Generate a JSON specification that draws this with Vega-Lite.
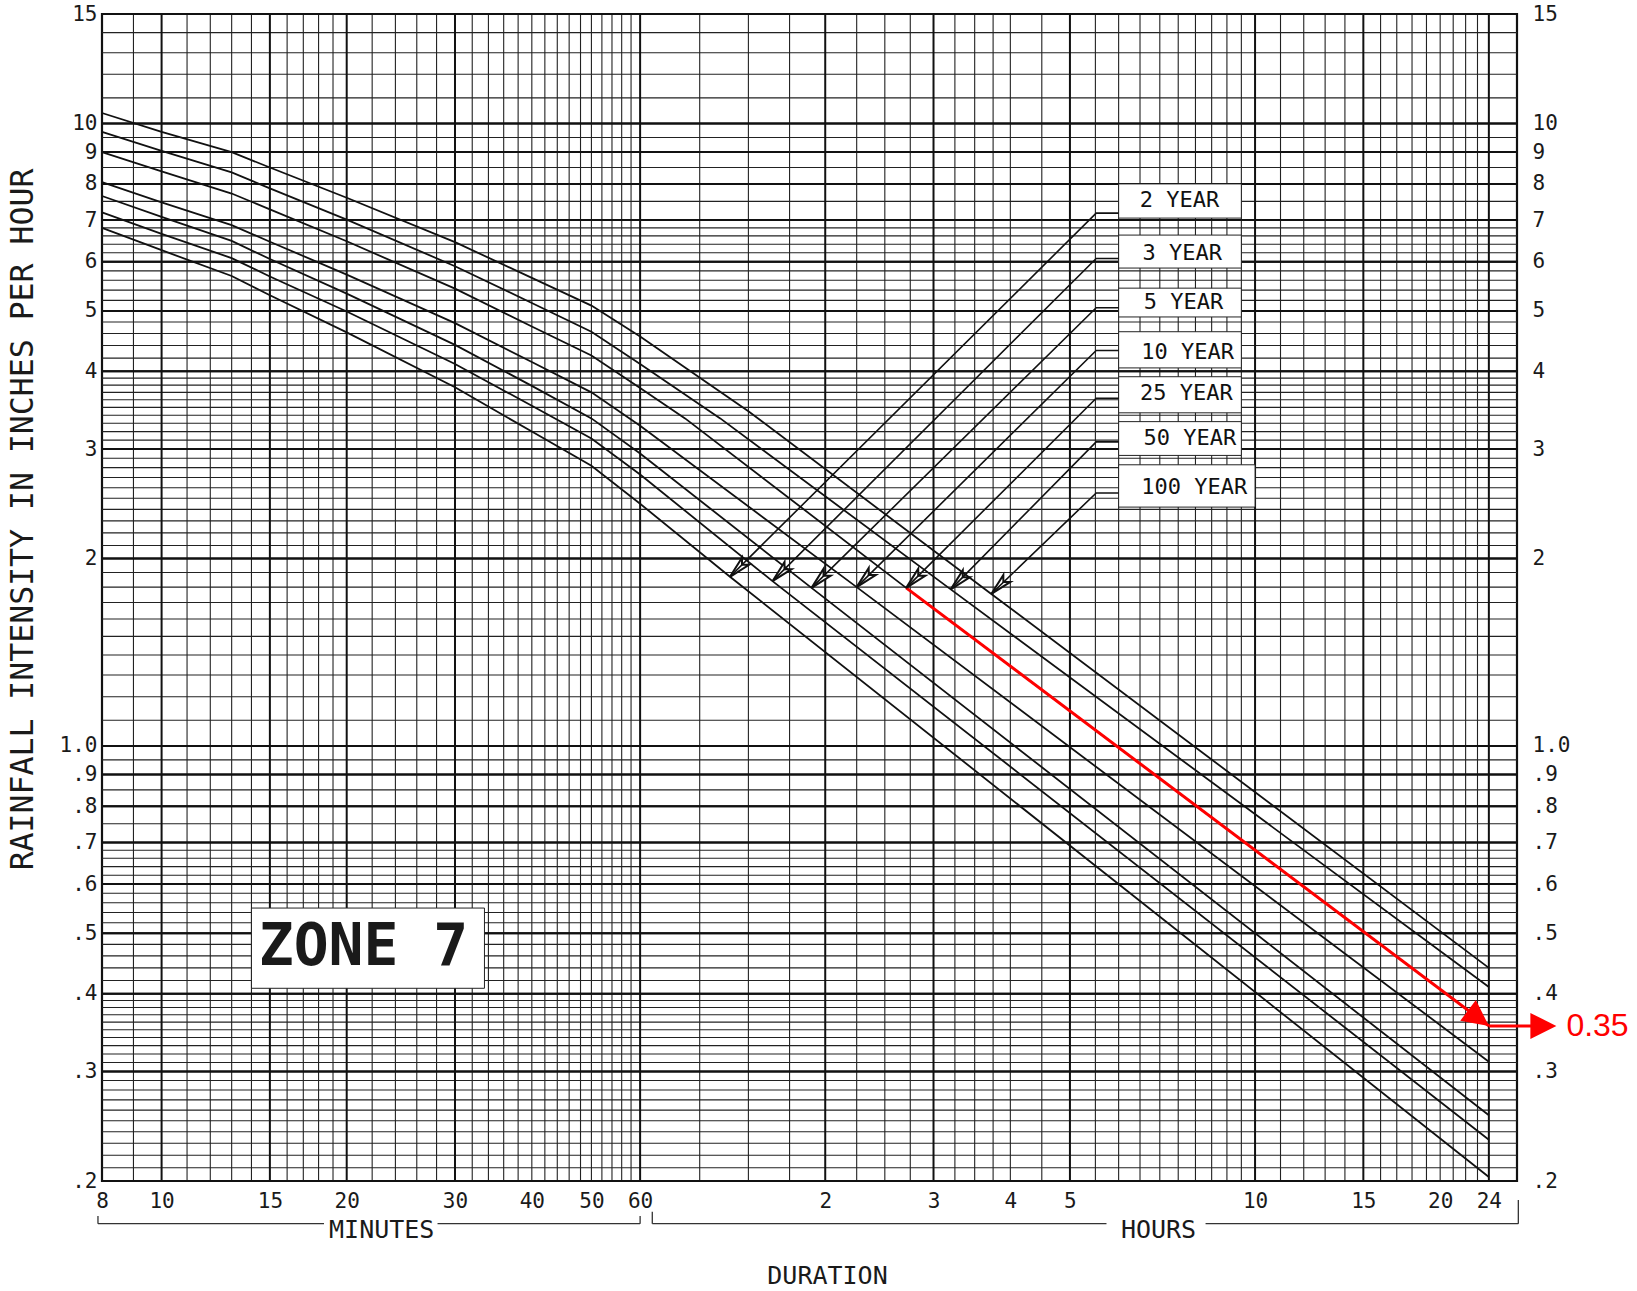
{
  "$schema": "https://vega.github.io/schema/vega-lite/v6.json",
  "width": 1415,
  "height": 1167,
  "autosize": {"type": "none"},
  "padding": {"left": 102, "top": 14, "right": 120, "bottom": 110},
  "background": "white",
  "config": {"view": {"stroke": "#111", "strokeWidth": 2.2}, "font": "DejaVu Sans Mono"},
  "datasets": {
    "xminor": [{"m":9},{"m":11},{"m":12},{"m":13},{"m":14},{"m":16},{"m":17},{"m":18},{"m":19},{"m":22},{"m":24},{"m":26},{"m":28},{"m":32},{"m":34},{"m":36},{"m":38},{"m":40},{"m":42},{"m":44},{"m":46},{"m":48},{"m":50},{"m":52},{"m":54},{"m":56},{"m":58},{"m":75},{"m":90},{"m":105},{"m":135},{"m":150},{"m":165},{"m":195},{"m":210},{"m":225},{"m":240},{"m":270},{"m":330},{"m":360},{"m":390},{"m":420},{"m":450},{"m":480},{"m":510},{"m":540},{"m":570},{"m":660},{"m":720},{"m":780},{"m":840},{"m":960},{"m":1020},{"m":1080},{"m":1140},{"m":1200},{"m":1260},{"m":1320},{"m":1380}],
    "xmajor": [{"m":10},{"m":15},{"m":20},{"m":30},{"m":60},{"m":120},{"m":180},{"m":300},{"m":600},{"m":900},{"m":1440}],
    "yminor": [{"v":11},{"v":12},{"v":13},{"v":14},{"v":7.5},{"v":8.5},{"v":9.5},{"v":6.2},{"v":6.4},{"v":6.6},{"v":6.8},{"v":4.2},{"v":4.4},{"v":4.6},{"v":4.8},{"v":5.2},{"v":5.4},{"v":5.6},{"v":5.8},{"v":3.1},{"v":3.2},{"v":3.3},{"v":3.4},{"v":3.5},{"v":3.6},{"v":3.7},{"v":3.8},{"v":3.9},{"v":2.1},{"v":2.2},{"v":2.3},{"v":2.4},{"v":2.5},{"v":2.6},{"v":2.7},{"v":2.8},{"v":2.9},{"v":1.1},{"v":1.2},{"v":1.3},{"v":1.4},{"v":1.5},{"v":1.6},{"v":1.7},{"v":1.8},{"v":1.9},{"v":0.75},{"v":0.85},{"v":0.95},{"v":0.62},{"v":0.64},{"v":0.66},{"v":0.68},{"v":0.52},{"v":0.54},{"v":0.56},{"v":0.58},{"v":0.42},{"v":0.44},{"v":0.46},{"v":0.48},{"v":0.21},{"v":0.22},{"v":0.23},{"v":0.24},{"v":0.25},{"v":0.26},{"v":0.27},{"v":0.28},{"v":0.29},{"v":0.31},{"v":0.32},{"v":0.33},{"v":0.34},{"v":0.35},{"v":0.36},{"v":0.37},{"v":0.38},{"v":0.39}],
    "ymajor": [{"v":15},{"v":10},{"v":9},{"v":8},{"v":7},{"v":6},{"v":5},{"v":4},{"v":3},{"v":2},{"v":1},{"v":0.9},{"v":0.8},{"v":0.7},{"v":0.6},{"v":0.5},{"v":0.4},{"v":0.3},{"v":0.2}],
    "curves": [
      {"rp":"100 YEAR","d":8,"i":10.4},{"rp":"100 YEAR","d":10,"i":9.7},{"rp":"100 YEAR","d":13,"i":9.0},{"rp":"100 YEAR","d":15,"i":8.5},{"rp":"100 YEAR","d":20,"i":7.6},{"rp":"100 YEAR","d":30,"i":6.45},{"rp":"100 YEAR","d":40,"i":5.65},{"rp":"100 YEAR","d":50,"i":5.1},{"rp":"100 YEAR","d":60,"i":4.55},{"rp":"100 YEAR","d":90,"i":3.45},{"rp":"100 YEAR","d":223.5,"i":1.755},{"rp":"100 YEAR","d":1440,"i":0.44},
      {"rp":"50 YEAR","d":8,"i":9.7},{"rp":"50 YEAR","d":10,"i":9.04},{"rp":"50 YEAR","d":13,"i":8.35},{"rp":"50 YEAR","d":15,"i":7.87},{"rp":"50 YEAR","d":20,"i":7.01},{"rp":"50 YEAR","d":30,"i":5.9},{"rp":"50 YEAR","d":40,"i":5.15},{"rp":"50 YEAR","d":50,"i":4.63},{"rp":"50 YEAR","d":60,"i":4.11},{"rp":"50 YEAR","d":81,"i":3.36},{"rp":"50 YEAR","d":192,"i":1.785},{"rp":"50 YEAR","d":1440,"i":0.41},
      {"rp":"25 YEAR","d":8,"i":9.0},{"rp":"25 YEAR","d":10,"i":8.38},{"rp":"25 YEAR","d":13,"i":7.72},{"rp":"25 YEAR","d":15,"i":7.28},{"rp":"25 YEAR","d":20,"i":6.47},{"rp":"25 YEAR","d":30,"i":5.43},{"rp":"25 YEAR","d":40,"i":4.72},{"rp":"25 YEAR","d":50,"i":4.24},{"rp":"25 YEAR","d":60,"i":3.76},{"rp":"25 YEAR","d":71,"i":3.36},{"rp":"25 YEAR","d":162.5,"i":1.795},{"rp":"25 YEAR","d":1440,"i":0.355},
      {"rp":"10 YEAR","d":8,"i":8.05},{"rp":"10 YEAR","d":10,"i":7.47},{"rp":"10 YEAR","d":13,"i":6.87},{"rp":"10 YEAR","d":15,"i":6.46},{"rp":"10 YEAR","d":20,"i":5.72},{"rp":"10 YEAR","d":30,"i":4.78},{"rp":"10 YEAR","d":40,"i":4.14},{"rp":"10 YEAR","d":50,"i":3.7},{"rp":"10 YEAR","d":60,"i":3.27},{"rp":"10 YEAR","d":135,"i":1.8},{"rp":"10 YEAR","d":1440,"i":0.311},
      {"rp":"5 YEAR","d":8,"i":7.65},{"rp":"5 YEAR","d":10,"i":7.08},{"rp":"5 YEAR","d":13,"i":6.48},{"rp":"5 YEAR","d":15,"i":6.06},{"rp":"5 YEAR","d":20,"i":5.33},{"rp":"5 YEAR","d":30,"i":4.41},{"rp":"5 YEAR","d":40,"i":3.79},{"rp":"5 YEAR","d":50,"i":3.36},{"rp":"5 YEAR","d":60,"i":2.95},{"rp":"5 YEAR","d":114,"i":1.795},{"rp":"5 YEAR","d":1440,"i":0.255},
      {"rp":"3 YEAR","d":8,"i":7.2},{"rp":"3 YEAR","d":10,"i":6.65},{"rp":"3 YEAR","d":13,"i":6.08},{"rp":"3 YEAR","d":15,"i":5.68},{"rp":"3 YEAR","d":20,"i":4.99},{"rp":"3 YEAR","d":30,"i":4.11},{"rp":"3 YEAR","d":40,"i":3.52},{"rp":"3 YEAR","d":50,"i":3.12},{"rp":"3 YEAR","d":60,"i":2.73},{"rp":"3 YEAR","d":98.5,"i":1.84},{"rp":"3 YEAR","d":1440,"i":0.233},
      {"rp":"2 YEAR","d":8,"i":6.8},{"rp":"2 YEAR","d":10,"i":6.26},{"rp":"2 YEAR","d":13,"i":5.69},{"rp":"2 YEAR","d":15,"i":5.3},{"rp":"2 YEAR","d":20,"i":4.62},{"rp":"2 YEAR","d":30,"i":3.77},{"rp":"2 YEAR","d":40,"i":3.2},{"rp":"2 YEAR","d":50,"i":2.82},{"rp":"2 YEAR","d":60,"i":2.45},{"rp":"2 YEAR","d":84,"i":1.87},{"rp":"2 YEAR","d":1440,"i":0.203}
    ],
    "tips": [{"rp":"2 YEAR","d":84,"i":1.87},{"rp":"3 YEAR","d":98.5,"i":1.84},{"rp":"5 YEAR","d":114,"i":1.795},{"rp":"10 YEAR","d":135,"i":1.8},{"rp":"25 YEAR","d":162.5,"i":1.795},{"rp":"50 YEAR","d":192,"i":1.785},{"rp":"100 YEAR","d":223.5,"i":1.755}],
    "leaders": [
      {"rp":"2 YEAR","o":0,"d":360,"i":7.18},{"rp":"2 YEAR","o":1,"d":331,"i":7.18},{"rp":"2 YEAR","o":2,"d":84,"i":1.87},
      {"rp":"3 YEAR","o":0,"d":360,"i":6.07},{"rp":"3 YEAR","o":1,"d":331,"i":6.07},{"rp":"3 YEAR","o":2,"d":98.5,"i":1.84},
      {"rp":"5 YEAR","o":0,"d":360,"i":5.06},{"rp":"5 YEAR","o":1,"d":331,"i":5.06},{"rp":"5 YEAR","o":2,"d":114,"i":1.795},
      {"rp":"10 YEAR","o":0,"d":360,"i":4.32},{"rp":"10 YEAR","o":1,"d":331,"i":4.32},{"rp":"10 YEAR","o":2,"d":135,"i":1.8},
      {"rp":"25 YEAR","o":0,"d":360,"i":3.62},{"rp":"25 YEAR","o":1,"d":331,"i":3.62},{"rp":"25 YEAR","o":2,"d":162.5,"i":1.795},
      {"rp":"50 YEAR","o":0,"d":360,"i":3.08},{"rp":"50 YEAR","o":1,"d":331,"i":3.08},{"rp":"50 YEAR","o":2,"d":192,"i":1.785},
      {"rp":"100 YEAR","o":0,"d":360,"i":2.55},{"rp":"100 YEAR","o":1,"d":331,"i":2.55},{"rp":"100 YEAR","o":2,"d":223.5,"i":1.755}
    ],
    "boxes": [{"d1":360,"d2":570,"i1":7.05,"i2":8.0},{"d1":360,"d2":570,"i1":5.86,"i2":6.62},{"d1":360,"d2":570,"i1":4.89,"i2":5.44},{"d1":360,"d2":570,"i1":4.05,"i2":4.63},{"d1":360,"d2":570,"i1":3.43,"i2":3.92},{"d1":360,"d2":570,"i1":2.93,"i2":3.32},{"d1":360,"d2":600,"i1":2.42,"i2":2.83},{"d1":14,"d2":33.5,"i1":0.408,"i2":0.549}],
    "labels": [{"t":"2 YEAR","d":452,"i":7.54},{"t":"3 YEAR","d":457,"i":6.2},{"t":"5 YEAR","d":459,"i":5.17},{"t":"10 YEAR","d":466,"i":4.29},{"t":"25 YEAR","d":464,"i":3.69},{"t":"50 YEAR","d":470,"i":3.13},{"t":"100 YEAR","d":478,"i":2.61}],
    "zone": [{"t":"ZONE 7","d":21.3,"i":0.474}],
    "red": [{"d":162.5,"i":1.795},{"d":1440,"i":0.355}],
    "redh": [{"d":1440,"i":0.355},{"d":1800,"i":0.355}],
    "redval": [{"t":"0.35","d":1925,"i":0.355}],
    "brackets": [{"x1":7.88,"x2":18.37,"y1":0.1708,"y2":0.1708},{"x1":28.1,"x2":60,"y1":0.1708,"y2":0.1708},{"x1":7.88,"x2":7.88,"y1":0.1708,"y2":0.1757},{"x1":60,"x2":60,"y1":0.1708,"y2":0.1757},{"x1":62.8,"x2":344,"y1":0.1708,"y2":0.1708},{"x1":498.5,"x2":1608,"y1":0.1708,"y2":0.1708},{"x1":62.8,"x2":62.8,"y1":0.1708,"y2":0.1785},{"x1":1608,"x2":1608,"y1":0.1708,"y2":0.1864}],
    "units": [{"t":"MINUTES","d":22.8,"i":0.1668},{"t":"HOURS","d":418,"i":0.1668}]
  },
  "layer": [
    {"data":{"name":"xminor"},"mark":{"type":"rule","stroke":"#222","strokeWidth":1.1},
     "encoding":{"x":{"field":"m","type":"quantitative","scale":{"type":"log","domain":[8,1600],"nice":false},"axis":null}}},
    {"data":{"name":"yminor"},"mark":{"type":"rule","stroke":"#222","strokeWidth":1.1},
     "encoding":{"y":{"field":"v","type":"quantitative","scale":{"type":"log","domain":[0.2,15],"nice":false},"axis":null}}},
    {"data":{"name":"xmajor"},"mark":{"type":"rule","stroke":"#111","strokeWidth":2},
     "encoding":{"x":{"field":"m","type":"quantitative","scale":{"type":"log","domain":[8,1600],"nice":false},
       "axis":{"orient":"bottom","values":[8,10,15,20,30,40,50,60,120,180,240,300,600,900,1200,1440],
         "labelExpr":"datum.value >= 120 ? format(datum.value/60, 'd') : format(datum.value, 'd')",
         "labelFont":"DejaVu Sans Mono","labelFontSize":21,"labelColor":"#1a1a1a","labelPadding":9,"labelOverlap":false,"labelBound":false,"labelFlush":false,
         "ticks":false,"domain":false,"grid":false,
         "title":"DURATION","titleFont":"DejaVu Sans Mono","titleFontSize":25,"titleFontWeight":"normal","titleColor":"#1a1a1a",
         "titleX":725,"titleY":94,"titleAlign":"center","titleBaseline":"middle","titleAngle":0}}}},
    {"data":{"name":"ymajor"},"mark":{"type":"rule","stroke":"#111","strokeWidth":2},
     "encoding":{"y":{"field":"v","type":"quantitative","scale":{"type":"log","domain":[0.2,15],"nice":false},
       "axis":{"orient":"left","values":[15,10,9,8,7,6,5,4,3,2,1,0.9,0.8,0.7,0.6,0.5,0.4,0.3,0.2],
         "labelExpr":"datum.value == 1 ? '1.0' : (datum.value < 1 ? replace(format(datum.value, '.1f'), '0.', '.') : format(datum.value, 'd'))",
         "labelFont":"DejaVu Sans Mono","labelFontSize":21,"labelColor":"#1a1a1a","labelPadding":5,"labelOverlap":false,"labelBound":false,"labelFlush":false,
         "ticks":false,"domain":false,"grid":false,
         "title":"RAINFALL INTENSITY IN INCHES PER HOUR","titleFont":"DejaVu Sans Mono","titleFontSize":31.5,"titleFontWeight":"normal","titleColor":"#1a1a1a",
         "titleX":-79,"titleY":505,"titleAngle":-90,"titleAlign":"center","titleBaseline":"middle"}}}},
    {"data":{"name":"ymajor"},"mark":{"type":"rule","stroke":"#111","strokeWidth":2},
     "encoding":{"y":{"field":"v","type":"quantitative","scale":{"type":"log","domain":[0.2,15],"nice":false},
       "axis":{"orient":"right","values":[15,10,9,8,7,6,5,4,3,2,1,0.9,0.8,0.7,0.6,0.5,0.4,0.3,0.2],
         "labelExpr":"datum.value == 1 ? '1.0' : (datum.value < 1 ? replace(format(datum.value, '.1f'), '0.', '.') : format(datum.value, 'd'))",
         "labelFont":"DejaVu Sans Mono","labelFontSize":21,"labelColor":"#1a1a1a","labelPadding":15,"labelOverlap":false,"labelBound":false,"labelFlush":false,
         "ticks":false,"domain":false,"grid":false,"title":null}}}},
    {"data":{"name":"boxes"},"mark":{"type":"rect","fill":"white","stroke":"#222","strokeWidth":1},
     "encoding":{"x":{"field":"d1","type":"quantitative","scale":{"type":"log","domain":[8,1600],"nice":false},"axis":null},
       "x2":{"field":"d2"},
       "y":{"field":"i1","type":"quantitative","scale":{"type":"log","domain":[0.2,15],"nice":false},"axis":null},
       "y2":{"field":"i2"}}},
    {"data":{"name":"curves"},"mark":{"type":"line","stroke":"#111","strokeWidth":1.8},
     "encoding":{"x":{"field":"d","type":"quantitative","scale":{"type":"log","domain":[8,1600],"nice":false},"axis":null},
       "y":{"field":"i","type":"quantitative","scale":{"type":"log","domain":[0.2,15],"nice":false},"axis":null},
       "detail":{"field":"rp","type":"nominal"}}},
    {"data":{"name":"red"},"mark":{"type":"line","stroke":"#ff0000","strokeWidth":3,"clip":false},
     "encoding":{"x":{"field":"d","type":"quantitative","scale":{"type":"log","domain":[8,1600],"nice":false},"axis":null},
       "y":{"field":"i","type":"quantitative","scale":{"type":"log","domain":[0.2,15],"nice":false},"axis":null}}},
    {"data":{"name":"redh"},"mark":{"type":"line","stroke":"#ff0000","strokeWidth":3,"clip":false},
     "encoding":{"x":{"field":"d","type":"quantitative","scale":{"type":"log","domain":[8,1600],"nice":false},"axis":null},
       "y":{"field":"i","type":"quantitative","scale":{"type":"log","domain":[0.2,15],"nice":false},"axis":null}}},
    {"data":{"values":[{"d":1440,"i":0.355}]},"mark":{"type":"point","shape":"M0,0 L1,2 L-1,2 Z","size":676,"angle":126.9,"filled":true,"fill":"#ff0000","stroke":null,"opacity":1,"clip":false},
     "encoding":{"x":{"field":"d","type":"quantitative","scale":{"type":"log","domain":[8,1600],"nice":false},"axis":null},
       "y":{"field":"i","type":"quantitative","scale":{"type":"log","domain":[0.2,15],"nice":false},"axis":null}}},
    {"data":{"values":[{"d":1854,"i":0.355}]},"mark":{"type":"point","shape":"M0,0 L1,2 L-1,2 Z","size":676,"angle":90,"filled":true,"fill":"#ff0000","stroke":null,"opacity":1,"clip":false},
     "encoding":{"x":{"field":"d","type":"quantitative","scale":{"type":"log","domain":[8,1600],"nice":false},"axis":null},
       "y":{"field":"i","type":"quantitative","scale":{"type":"log","domain":[0.2,15],"nice":false},"axis":null}}},
    {"data":{"name":"tips"},"mark":{"type":"point","shape":"M0,0 L0.5,2.2 L0,1.7 L-0.5,2.2 Z","size":400,"angle":225,"filled":true,"fill":"white","stroke":"#111","strokeWidth":2,"opacity":1},
     "encoding":{"x":{"field":"d","type":"quantitative","scale":{"type":"log","domain":[8,1600],"nice":false},"axis":null},
       "y":{"field":"i","type":"quantitative","scale":{"type":"log","domain":[0.2,15],"nice":false},"axis":null}}},
    {"data":{"name":"leaders"},"mark":{"type":"line","stroke":"#111","strokeWidth":1.6},
     "encoding":{"x":{"field":"d","type":"quantitative","scale":{"type":"log","domain":[8,1600],"nice":false},"axis":null},
       "y":{"field":"i","type":"quantitative","scale":{"type":"log","domain":[0.2,15],"nice":false},"axis":null},
       "detail":{"field":"rp","type":"nominal"},"order":{"field":"o","type":"quantitative"}}},
    {"data":{"name":"labels"},"mark":{"type":"text","font":"DejaVu Sans Mono","fontSize":22,"fill":"#111","align":"center","baseline":"middle"},
     "encoding":{"x":{"field":"d","type":"quantitative","scale":{"type":"log","domain":[8,1600],"nice":false},"axis":null},
       "y":{"field":"i","type":"quantitative","scale":{"type":"log","domain":[0.2,15],"nice":false},"axis":null},
       "text":{"field":"t"}}},
    {"data":{"name":"zone"},"mark":{"type":"text","font":"DejaVu Sans Mono","fontSize":58,"fontWeight":"bold","fill":"#1a1a1a","align":"center","baseline":"middle"},
     "encoding":{"x":{"field":"d","type":"quantitative","scale":{"type":"log","domain":[8,1600],"nice":false},"axis":null},
       "y":{"field":"i","type":"quantitative","scale":{"type":"log","domain":[0.2,15],"nice":false},"axis":null},
       "text":{"field":"t"}}},
    {"data":{"name":"redval"},"mark":{"type":"text","font":"Liberation Sans","fontSize":32,"fill":"#ff0000","align":"left","baseline":"middle","clip":false},
     "encoding":{"x":{"field":"d","type":"quantitative","scale":{"type":"log","domain":[8,1600],"nice":false},"axis":null},
       "y":{"field":"i","type":"quantitative","scale":{"type":"log","domain":[0.2,15],"nice":false},"axis":null},
       "text":{"field":"t"}}},
    {"data":{"name":"brackets"},"mark":{"type":"rule","stroke":"#333","strokeWidth":1.3,"clip":false},
     "encoding":{"x":{"field":"x1","type":"quantitative","scale":{"type":"log","domain":[8,1600],"nice":false},"axis":null},
       "x2":{"field":"x2"},
       "y":{"field":"y1","type":"quantitative","scale":{"type":"log","domain":[0.2,15],"nice":false},"axis":null},
       "y2":{"field":"y2"}}},
    {"data":{"name":"units"},"mark":{"type":"text","font":"DejaVu Sans Mono","fontSize":25,"fill":"#1a1a1a","align":"center","baseline":"middle","clip":false},
     "encoding":{"x":{"field":"d","type":"quantitative","scale":{"type":"log","domain":[8,1600],"nice":false},"axis":null},
       "y":{"field":"i","type":"quantitative","scale":{"type":"log","domain":[0.2,15],"nice":false},"axis":null},
       "text":{"field":"t"}}}
  ],
  "resolve": {"axis": {"x": "independent", "y": "independent"}}
}
